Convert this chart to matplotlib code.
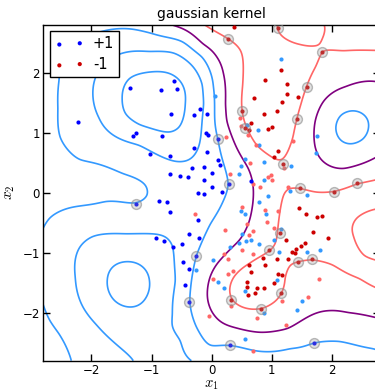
import numpy as np
import matplotlib
matplotlib.use("Agg")
import matplotlib.pyplot as plt

plt.rcParams["mathtext.fontset"] = "cm"

# ---------------- data points ----------------
blue_x = [-0.62, -1.36, -0.84, -0.57, -0.67, -0.29, -0.20, -0.07, -2.22, -1.31, -1.26, -0.83,
          -0.09, -0.06, -0.29, -0.07, -1.03, -0.69, -0.33, -0.13, 0.10, 0.14, -0.69, -0.52,
          -0.40, -0.13, 0.00, 0.00, 0.17, -0.22, -0.13, -0.88, -0.74, -0.69, -0.23, -0.38,
          -0.21, -0.93, -0.80, -0.64, -0.50, -0.47, -0.38, -0.44, 0.66]
blue_y = [1.87, 1.75, 1.71, 1.73, 1.32, 1.29, 1.40, 1.31, 1.18, 0.95, 0.99, 0.95,
          0.99, 0.97, 0.74, 0.68, 0.64, 0.61, 0.42, 0.43, 0.54, 0.46, 0.31, 0.28,
          0.27, 0.22, 0.33, 0.09, 0.01, -0.01, -0.02, -0.14, -0.16, -0.32, -0.46, -0.68,
          -0.76, -0.76, -0.81, -0.91, -0.85, -1.16, -1.27, -1.54, 0.20]

lblue_x = [1.16, 0.06, 0.58, 0.77, 0.78, 0.56, 0.49, 0.46, 0.87, 1.32, 0.87, 1.75, 1.73,
           1.31, 1.59, 1.81, 1.58, 1.12, 1.04, 1.16, 0.90, 0.79, 0.94, 0.49, 0.56, 0.51,
           0.57, 0.66, 0.45, 0.79, 0.31, 0.03, 0.11, 0.21, 1.08, 0.55, 0.87, 1.51, 1.42,
           0.56, -0.26]
lblue_y = [2.23, 1.62, 1.13, 1.05, 0.80, 0.56, 0.44, 0.32, 0.51, 0.44, 0.21, 0.95, 0.67,
           0.03, -0.04, -0.96, -0.99, -0.99, -0.78, -0.61, -0.36, -0.16, -0.06, -0.30, -0.35, -0.69,
           -0.80, -0.78, -0.83, -0.86, -0.90, -1.12, -1.49, -1.59, -1.46, -1.64, -2.00, -1.81, -1.96,
           -2.44, -1.29]

red_x = [0.37, 1.15, 0.88, 1.25, 1.26, 1.44, 0.71, 1.17, 0.87, 1.08, 0.66, 0.62, 0.94, 1.00,
         1.11, 1.04, 1.46, 1.57, 1.76, 1.83, 1.69, 1.94, 1.55, 1.48, 1.41, 1.34, 1.38, 1.27,
         1.09, 0.89, 0.86, 1.23, 0.62, 0.65, 0.58, 0.58, 0.60, 0.76, 0.87, 0.72, 1.03, 1.11, 1.17]
red_y = [2.77, 2.04, 1.88, 1.82, 1.64, 1.59, 1.58, 1.51, 1.32, 1.37, 1.16, 1.04, 1.07, 1.10,
         0.69, 0.59, -0.25, -0.35, -0.41, -0.38, -0.66, -0.76, -0.84, -0.89, -0.93, -0.98, -1.01, -1.10,
         -1.11, -1.21, -1.08, -0.78, -1.20, -1.32, -1.48, -1.57, -1.70, -1.58, -1.58, -1.67, -1.50, -1.36, -1.37]

lred_x = [0.47, 0.48, 0.61, 0.24, 0.73, 1.36, 1.20, 0.64, 0.31, 0.93, 0.98, 1.01, 0.69, 0.81,
          1.27, 0.50, -0.28, 0.88, 1.11, 0.92, 0.58, 0.22, 1.03, 0.69, 0.62, 0.51, 0.69, 0.20,
          0.27, 0.36, 0.27, 0.02, 1.78, 1.17, 0.32, 0.76, -0.04, 1.23, 0.69, 1.61]
lred_y = [1.24, 1.12, 0.96, 0.93, 0.80, 0.87, 0.41, 0.49, 0.32, 0.27, 0.29, 0.21, 0.14, 0.09,
          0.10, -0.23, -0.36, -0.29, -0.31, -0.48, -0.52, -0.62, -0.58, -0.64, -0.71, -0.95, -1.02, -1.02,
          -1.11, -1.31, -1.35, -1.44, -1.43, -1.81, -1.88, -2.08, -2.05, -2.21, -2.63, -1.73]

sv_blue_x = [0.11, 0.29, -1.26, -0.26, -0.37, 0.30, 1.71]
sv_blue_y = [0.89, 0.14, -0.19, -1.05, -1.82, -2.54, -2.50]
sv_red_x = [0.28, 1.10, 1.83, 1.58, 0.51, 1.42, 0.56, 1.19, 2.41, 2.04, 1.47, 0.96, 1.13,
            1.44, 1.67, 1.16, 0.33, 0.82]
sv_red_y = [2.56, 2.74, 2.34, 1.77, 1.36, 1.23, 1.08, 0.48, 0.16, 0.02, 0.08, -0.96, -0.67,
            -1.16, -1.10, -1.67, -1.78, -1.93]

# ---------------- decision-function level lines ----------------
level_p3_x = [-1.48, -1.37, -0.92, -0.53, -0.45, -0.53, -0.70, -1.20, -1.45,
              -1.73, -1.65, -1.39, -1.15, -1.04, -1.09, -1.37, -1.62]
level_p3_y = [1.56, 1.92, 2.02, 1.87, 1.48, 1.09, 1.00, 1.12, 1.31,
              -1.47, -1.24, -1.15, -1.24, -1.47, -1.74, -1.90, -1.80]

level_p2_x = [-1.53, -1.03, -0.64, -0.14, -0.12, -0.20, -0.48, -0.64, -1.03, -1.20, -1.87, -1.95,
              -2.26, -2.20, -1.98, -1.42, -0.76, -0.64, -0.62, -0.59, -0.64, -0.68, -0.48, 0.19,
              -2.14, -1.92, -1.65, -1.28]
level_p2_y = [2.31, 2.34, 2.34, 1.81, 1.48, 0.81, 0.53, 0.53, 0.70, 0.81, 1.26, 1.87,
              -1.41, -0.91, -0.72, -0.69, -0.74, -0.88, -1.24, -1.47, -2.02, -2.22, -2.44, -2.80,
              -1.91, -2.19, -2.47, -2.80]

level_p1_x = [-2.80, -2.70, -2.31, -1.76, -1.26, -1.05, -1.09, -1.48, -2.20, -2.53, -2.55, -2.53,
              -2.35, -1.87, -1.03, -0.48, -0.15, 0.02, 0.05, 0.11, 0.22, 0.29, 0.19, -0.03,
              -0.20, -0.26, -0.34, -0.37, -0.26, -0.03, 0.29, 0.74, 1.30, 1.70, 2.13, 2.72,
              -2.80, -2.70, -2.53, -2.45, -2.33,
              2.06, 2.60, 2.33, 2.33, 2.14, 2.52, 2.14, 2.52]
level_p1_y = [-0.60, -0.41, -0.24, -0.13, -0.19, -0.05, 0.14, 0.31, 0.53, 0.92, 1.40, 1.87,
              2.40, 2.67, 2.67, 2.53, 2.28, 1.76, 1.42, 0.89, 0.42, 0.14, -0.13, -0.52,
              -0.91, -1.05, -1.47, -1.82, -2.24, -2.60, -2.54, -2.64, -2.58, -2.49, -2.47, -2.58,
              -1.86, -2.13, -2.35, -2.50, -2.80,
              1.09, 1.09, 1.37, 0.81, 1.30, 1.30, 0.88, 0.88]

level_0_x = [-0.73, -0.16, 0.08, 0.19, 0.22, 0.24, 0.41, 0.61, 0.69, 0.69, 0.63, 0.47, 0.19,
             -0.03, -0.07, 0.08, 0.41, 0.80, 1.27, 1.68, 1.94, 2.27, 2.72,
             2.72, 2.24, 1.86, 1.72, 1.72, 1.91, 2.19, 2.72]
level_0_y = [2.80, 2.46, 2.26, 1.98, 1.48, 1.20, 0.76, 0.42, 0.10, -0.13, -0.47, -0.80, -1.08,
             -1.41, -1.77, -2.08, -2.25, -2.33, -2.28, -2.03, -1.97, -2.01, -2.08,
             1.86, 1.76, 1.53, 1.20, 0.76, 0.48, 0.39, 0.59]

level_m1_x = [-0.14, 0.28, 0.49, 0.52, 0.52, 0.51, 0.58, 0.74, 0.94, 1.19, 1.24, 1.36, 1.42,
              1.49, 1.58, 1.74, 1.83, 2.20, 2.72,
              1.07, 1.10, 1.19, 1.47, 1.69, 1.80, 1.91,
              2.72, 2.41, 2.04, 1.74, 1.47, 1.27, 1.19, 1.13, 1.08, 0.96, 0.63, 0.36, 0.30,
              0.33, 0.52, 0.82, 0.97, 1.16, 1.19, 1.30, 1.44, 1.67, 2.02, 2.47, 2.72]
level_m1_y = [2.80, 2.56, 2.37, 2.20, 1.80, 1.36, 1.09, 0.78, 0.64, 0.48, 0.64, 0.92, 1.23,
              1.48, 1.77, 2.09, 2.35, 2.35, 2.37,
              2.80, 2.74, 2.59, 2.48, 2.45, 2.59, 2.78,
              0.21, 0.16, 0.02, 0.00, 0.08, 0.10, -0.02, -0.36, -0.80, -0.96, -1.19, -1.41, -1.63,
              -1.78, -1.91, -1.93, -1.86, -1.67, -1.41, -1.19, -1.16, -1.10, -1.19, -1.41, -1.58]

level_m2_x = [2.72, 2.41, 2.36, 2.38, 2.52, 2.72]
level_m2_y = [-0.27, -0.41, -0.52, -0.74, -1.08, -1.13]

# values estimated inside the regions bounded by the level lines
inner_x = [-0.95, -1.38, -0.50, -2.00, -2.80, -2.80, -2.80, -1.90, -0.60, 2.33, 1.05, 0.80, 1.60,
           2.80, 1.50, 2.60, 2.50, 1.30, 1.50, 2.60, -1.30]
inner_y = [1.50, -1.50, -0.10, 0.10, 0.20, 2.80, -2.80, -2.75, -2.75, 1.09, 1.60, -1.45, -0.60,
           -0.70, 2.72, 2.65, 2.10, 0.30, -2.75, -2.80, 2.80]
inner_v = [3.5, 3.5, 1.6, 0.6, 0.5, 0.6, 0.6, 1.5, 2.2, 1.3, -1.8, -1.7, -1.7,
           -2.3, -0.8, -1.4, -0.5, -0.7, 1.3, 1.2, 0.8]

level_values = [-2, -1, 0, 1, 2, 3]
level_colors = ["#ff6666", "#ff6666", "#800080", "#3399ff", "#3399ff", "#3399ff"]

# ---------------- smooth surface through the read level lines (thin-plate spline) ----------------
cx, cy, cv = [], [], []
for xs, ys, v in [(level_p3_x, level_p3_y, 3), (level_p2_x, level_p2_y, 2),
                  (level_p1_x, level_p1_y, 1), (level_0_x, level_0_y, 0),
                  (level_m1_x, level_m1_y, -1), (level_m2_x, level_m2_y, -2)]:
    cx += xs; cy += ys; cv += [v] * len(xs)
cx += inner_x; cy += inner_y; cv += inner_v
cx = np.array(cx); cy = np.array(cy); cv = np.array(cv, float)
n = len(cx)


def tps(r):
    with np.errstate(divide="ignore", invalid="ignore"):
        out = r ** 2 * np.log(r)
    return np.nan_to_num(out)


R = np.hypot(cx[:, None] - cx[None, :], cy[:, None] - cy[None, :])
A = np.zeros((n + 3, n + 3))
A[:n, :n] = tps(R) + 0.05 * np.eye(n)
P = np.column_stack([np.ones(n), cx, cy])
A[:n, n:] = P
A[n:, :n] = P.T
sol = np.linalg.solve(A, np.concatenate([cv, np.zeros(3)]))

g = np.linspace(-2.8, 2.8, 281)
GX, GY = np.meshgrid(g, g)
px = GX.ravel(); py = GY.ravel()
rr = np.hypot(px[:, None] - cx[None, :], py[:, None] - cy[None, :])
Z = (tps(rr) @ sol[:n] + sol[n] + sol[n + 1] * px + sol[n + 2] * py).reshape(GX.shape)

# ---------------- figure ----------------
fig = plt.figure(figsize=(3.75, 3.92), dpi=100, facecolor="white")
ax = fig.add_axes([43.3 / 375, 31.3 / 392, 336.7 / 375, 336 / 392])

ax.contour(GX, GY, Z, levels=level_values, colors=level_colors, linewidths=1.2, zorder=1)

ms = 9
ax.scatter(lblue_x, lblue_y, s=ms, c="#3399ff", linewidths=0, zorder=3)
ax.scatter(lred_x, lred_y, s=ms, c="#ff6666", linewidths=0, zorder=3)
hb = ax.scatter(blue_x, blue_y, s=ms, c="#0000ff", linewidths=0, zorder=3)
hr = ax.scatter(red_x, red_y, s=ms, c="#cc0000", linewidths=0, zorder=3)
ax.scatter(sv_blue_x, sv_blue_y, s=ms, c="#0000ff", linewidths=0, zorder=3)
ax.scatter(sv_red_x, sv_red_y, s=ms, c="#cc0000", linewidths=0, zorder=3)
ax.scatter(sv_blue_x + sv_red_x, sv_blue_y + sv_red_y, s=50,
           facecolors=(0.6, 0.6, 0.6, 0.3), edgecolors=(0.55, 0.55, 0.55, 0.6),
           linewidths=1.0, zorder=4)

ax.set_xlim(-2.8, 2.8)
ax.set_ylim(-2.8, 2.8)
ax.set_xticks([-2, -1, 0, 1, 2])
ax.set_yticks([-2, -1, 0, 1, 2])
ax.tick_params(direction="in", top=True, right=True, length=5, width=1, labelsize=8.5, pad=2.5)
for sp in ax.spines.values():
    sp.set_linewidth(1.0)

ax.set_title("gaussian kernel", fontsize=10, pad=5)
ax.set_xlabel("$x_1$", fontsize=10.5, labelpad=0)
ax.set_ylabel("$x_2$", fontsize=11, labelpad=4)

leg = ax.legend([hb, hr], ["+1", "-1"], loc="upper left", scatterpoints=2, fontsize=10.5,
                fancybox=False, framealpha=1, edgecolor="black", borderaxespad=0.45,
                handletextpad=0.6, borderpad=0.35, labelspacing=0.4)
leg.get_frame().set_linewidth(1.0)

fig.savefig("out.png", dpi=100, facecolor="white")
